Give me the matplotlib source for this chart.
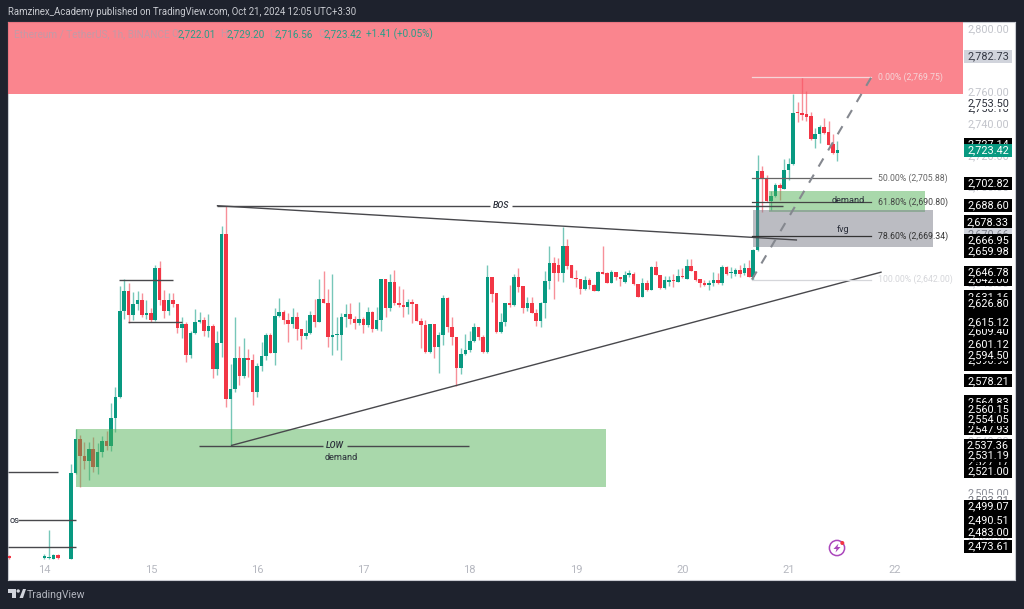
import numpy as np
import matplotlib
matplotlib.use('Agg')
import matplotlib.pyplot as plt
from matplotlib.patches import Circle, Polygon, Rectangle
from matplotlib.transforms import IdentityTransform

nan = float('nan')

# hourly candles, hour 0 = start of day 14
hours = [-8] + list(range(180))
opens = [2468.0,
    2466.5,2466.5,2466.0,2468.2,nan,nan,2466.0,2520.3,2541.5,2530.8,
    2527.6,2535.0,2523.9,2533.3,2540.2,2537.1,2554.7,2568.2,2622.2,2635.0,
    2619.7,2626.6,2629.2,2619.7,2621.1,2616.5,2649.5,2629.2,2622.2,2629.2,
    2626.6,2611.7,2614.2,2594.3,2608.1,2615.1,2616.5,2609.4,2612.8,2585.5,
    2601.8,2670.9,2566.7,2572.8,2592.4,2581.2,2592.4,2591.3,2571.3,2587.7,
    2593.8,2607.1,2595.9,2619.1,2621.6,2616.5,2613.8,2618.4,2610.7,2606.4,
    2608.3,2619.7,2615.3,2629.8,2627.4,2606.0,2607.1,2607.1,2618.2,2620.3,
    2617.0,2614.5,2617.4,2613.2,2621.6,2610.7,2616.5,2642.2,2623.9,2640.5,
    2627.1,2626.0,2624.5,2627.9,2626.6,2616.1,2613.6,2596.6,2614.0,2599.7,
    2607.1,2630.4,2612.3,2606.0,2586.5,2595.1,2597.6,2603.5,2612.3,2605.6,
    2596.2,2643.5,2633.4,2609.0,2615.3,2627.1,2626.0,2643.8,2638.0,2623.9,
    2627.1,2621.1,2615.7,2627.4,2641.3,2652.7,2651.2,2646.4,2663.2,2651.0,
    2643.0,2642.2,2635.9,2641.8,2638.8,2635.0,2646.8,2645.9,2640.1,2647.0,
    2643.5,2640.5,2645.1,2645.5,2639.2,2631.0,2639.7,2635.4,2649.8,2645.1,
    2636.7,2640.7,2641.8,2640.7,2644.3,2642.6,2650.6,2647.6,2642.2,2639.7,
    2638.5,2639.7,2641.6,2639.9,2650.2,2645.9,2645.5,2648.1,2645.9,2649.1,
    2643.8,2660.7,2710.5,2706.3,2691.8,2694.7,2701.7,2699.1,2711.1,2714.9,
    2747.7,2746.9,2746.4,2745.2,2730.9,2733.6,2738.4,2735.1,2727.5,2722.01]
closes = [2466.2,
    2467.5,2467.0,2468.2,2466.2,nan,nan,2520.3,2541.5,2530.8,2527.6,
    2535.0,2523.9,2533.3,2540.2,2537.1,2554.7,2568.0,2622.2,2635.0,2619.7,
    2626.6,2629.2,2619.7,2621.1,2616.5,2649.5,2629.2,2622.2,2629.2,2626.6,
    2611.7,2614.2,2594.3,2608.1,2615.1,2616.5,2609.4,2612.8,2585.5,2601.8,
    2670.9,2566.7,2572.8,2592.4,2581.2,2592.4,2591.1,2571.3,2587.7,2593.8,
    2607.1,2595.9,2619.1,2621.6,2616.5,2613.8,2618.4,2610.7,2606.4,2608.3,
    2619.7,2615.3,2629.8,2627.4,2606.0,2607.1,2607.5,2618.6,2620.3,2617.0,
    2614.5,2617.4,2613.2,2621.6,2610.7,2616.5,2642.2,2623.9,2640.5,2627.1,
    2626.0,2625.0,2627.9,2626.6,2616.1,2613.6,2596.6,2614.0,2599.7,2607.1,
    2630.4,2612.3,2606.0,2586.5,2595.1,2597.6,2603.5,2612.3,2605.6,2596.2,
    2643.5,2633.0,2609.0,2615.3,2627.1,2626.0,2643.8,2637.5,2623.9,2627.1,
    2621.1,2615.7,2627.4,2641.3,2652.7,2646.4,2646.4,2663.2,2650.8,2643.0,
    2642.2,2635.9,2641.8,2638.8,2635.0,2646.8,2645.7,2640.1,2647.0,2643.5,
    2642.6,2645.1,2646.0,2639.2,2631.0,2639.7,2635.4,2649.8,2645.1,2636.7,
    2641.8,2641.8,2641.0,2644.3,2643.5,2650.6,2647.6,2641.8,2639.7,2638.8,
    2639.7,2641.6,2639.9,2650.2,2645.5,2646.5,2648.3,2645.5,2649.1,2643.8,
    2660.7,2710.5,2705.9,2691.8,2694.7,2701.7,2699.6,2711.1,2714.9,2747.2,
    2746.9,2745.8,2744.5,2730.9,2733.6,2738.4,2734.6,2726.9,2721.6,2723.42]
highs = [2468.5,
    2469.0,2484.1,2469.0,2469.0,nan,nan,2525.7,2547.8,2544.0,2539.8,
    2539.8,2543.0,2539.0,2543.4,2546.7,2564.4,2574.5,2638.0,2642.2,2639.9,
    2634.2,2635.0,2633.6,2629.2,2624.3,2651.2,2653.6,2635.4,2633.8,2633.8,
    2626.6,2618.6,2615.5,2609.8,2623.5,2621.8,2618.6,2620.1,2613.8,2609.6,
    2675.8,2688.4,2588.6,2618.6,2600.1,2605.4,2598.1,2595.1,2589.2,2602.9,
    2608.5,2608.5,2624.3,2630.2,2622.8,2620.8,2623.9,2621.8,2610.7,2616.5,
    2622.2,2629.8,2642.2,2647.4,2635.9,2645.4,2618.2,2620.9,2626.6,2627.4,
    2619.1,2628.1,2618.6,2624.5,2622.2,2624.5,2642.2,2642.2,2645.5,2648.1,
    2638.0,2635.9,2629.6,2629.8,2626.6,2618.0,2616.5,2614.0,2614.0,2609.2,
    2632.3,2630.9,2618.6,2606.0,2598.7,2607.5,2609.6,2614.5,2612.3,2607.1,
    2651.2,2643.5,2633.4,2621.1,2627.4,2638.4,2645.5,2649.1,2638.0,2630.9,
    2631.2,2623.3,2628.1,2647.4,2663.2,2656.1,2655.6,2675.4,2667.4,2651.0,
    2648.1,2642.2,2644.3,2642.8,2639.4,2647.6,2663.2,2647.0,2648.0,2647.0,
    2643.9,2647.6,2648.1,2646.8,2639.2,2642.8,2641.8,2650.6,2653.7,2645.1,
    2644.3,2644.3,2645.5,2648.9,2649.1,2655.2,2654.8,2647.6,2642.2,2641.8,
    2641.8,2647.0,2646.0,2651.2,2650.6,2650.2,2649.0,2651.2,2652.3,2654.4,
    2661.5,2720.6,2713.6,2708.0,2697.9,2703.1,2702.7,2717.9,2718.9,2758.8,
    2754.2,2769.75,2760.9,2747.9,2737.4,2739.3,2743.7,2742.2,2733.8,2729.2]
lows = [2466.0,
    2466.0,2466.0,2466.0,2466.0,nan,nan,2466.0,2519.5,2511.2,2522.6,
    2515.7,2520.9,2519.4,2530.3,2534.6,2534.0,2546.1,2567.6,2617.2,2614.8,
    2616.5,2622.8,2618.6,2617.2,2615.5,2616.1,2626.0,2617.6,2619.7,2624.5,
    2608.1,2605.4,2590.2,2592.4,2607.5,2614.8,2606.6,2605.6,2579.8,2581.9,
    2593.2,2561.9,2537.1,2571.3,2575.6,2579.8,2580.8,2562.9,2568.2,2584.6,
    2591.3,2595.5,2588.2,2618.6,2613.8,2602.9,2611.3,2603.9,2598.3,2604.7,
    2607.5,2612.3,2615.1,2627.0,2599.7,2594.5,2597.6,2591.3,2612.3,2614.0,
    2610.9,2613.4,2608.5,2612.3,2609.2,2610.2,2609.8,2618.2,2622.4,2626.0,
    2625.0,2618.6,2620.3,2614.8,2616.1,2598.7,2595.5,2596.0,2592.4,2583.0,
    2600.8,2609.2,2600.8,2574.9,2582.5,2594.7,2596.6,2602.9,2603.9,2595.9,
    2595.9,2628.1,2608.3,2608.2,2612.8,2625.0,2625.4,2634.4,2620.8,2622.4,
    2620.8,2612.8,2611.9,2617.6,2635.9,2629.6,2641.1,2640.7,2648.7,2642.8,
    2637.5,2633.0,2635.4,2635.9,2635.0,2634.8,2645.5,2639.7,2639.7,2641.8,
    2638.0,2640.1,2643.5,2638.8,2630.8,2630.8,2634.8,2635.2,2644.7,2636.3,
    2636.3,2638.0,2637.5,2640.3,2643.0,2642.2,2647.2,2641.4,2637.5,2638.0,
    2635.4,2638.0,2639.2,2638.6,2644.9,2642.8,2644.5,2643.5,2644.9,2643.5,
    2642.0,2660.0,2684.8,2691.1,2685.9,2694.3,2692.2,2698.9,2704.8,2714.3,
    2741.4,2742.6,2742.2,2730.0,2725.2,2728.0,2733.8,2726.7,2721.2,2716.56]

day_ticks = [0, 24, 48, 72, 96, 120, 144, 168, 192]
day_labels = ['14', '15', '16', '17', '18', '19', '20', '21', '22']

scale_ticks = [2800, 2760, 2740, 2720, 2700, 2680, 2660, 2640, 2620, 2600,
               2580, 2560, 2540, 2520, 2500, 2480]

# price scale tags, drawn in this order so later ones cover earlier ones
black_tags = [2727.14, 2642.00, 2631.16, 2622.5, 2609.40, 2588.2, 2590.90, 2564.83,
              2547.93, 2527.17, 2702.82, 2688.60, 2678.33, 2666.95, 2659.98,
              2646.78, 2626.80, 2615.12, 2601.12, 2594.50, 2578.21, 2560.15, 2554.05,
              2537.36, 2531.19, 2521.00, 2499.07, 2490.51, 2483.00, 2473.61]
no_text_tags = [2622.5, 2588.2]

fib_prices = [2769.75, 2705.88, 2690.80, 2669.34, 2642.00]
fib_labels = ['0.00% (2,769.75)', '50.00% (2,705.88)', '61.80% (2,690.80)',
              '78.60% (2,669.34)', '100.00% (2,642.00)']
fib_colors = ['#f5d5d8', '#666666', '#444444', '#333333', '#d5d6da']

W, H = 1024, 609
BG = '#1e222d'
GREEN = '#089981'
RED = '#f23645'
LINE = '#48484c'
plt.rcParams['font.family'] = 'Roboto'

fig = plt.figure(figsize=(W / 100, H / 100), dpi=100, facecolor=BG)
ax = fig.add_axes([8 / W, (H - 580) / H, (1015 - 8) / W, 558 / H])
ax.set_xlim(-8.24, 219.1)
ax.set_ylim(2452.6, 2804.4)
ax.set_yticks([])
ax.set_xticks(day_ticks)
ax.set_xticklabels(day_labels, color='#b6b8c0', fontsize=8)
ax.tick_params(axis='x', length=0, pad=-10.8)
for s in ax.spines.values():
    s.set_color('#c9cbd1')
    s.set_linewidth(0.8)

# candles
h = np.array(hours, dtype=float)
o = np.array(opens)
c = np.array(closes)
hi = np.array(highs)
lo = np.array(lows)
up = c >= o
cols = np.where(up, GREEN, RED)
ax.vlines(h, lo, hi, colors=list(cols), linewidth=1.0, alpha=0.55, zorder=2)
ax.bar(h, np.maximum(np.abs(c - o), 0.9), bottom=np.minimum(o, c), width=0.8,
       color=list(cols), linewidth=0, zorder=3)

# zones
ax.add_patch(Rectangle((-8.24, 2758.7), 207.3 + 8.24, 2804.4 - 2758.7, color='#f9515f', alpha=0.7, lw=0, zorder=4))
ax.add_patch(Rectangle((7.1, 2511.2), 119.7, 2547.9 - 2511.2, color='#4caf50', alpha=0.48, lw=0, zorder=4))
ax.add_patch(Rectangle((163.5, 2684.8), 35.2, 2697.9 - 2684.8, color='#4caf50', alpha=0.48, lw=0, zorder=4))
ax.add_patch(Rectangle((160.0, 2662.4), 40.6, 2685.9 - 2662.4, color='#787b86', alpha=0.5, lw=0, zorder=4))

# trend lines and structure levels
segs = [
    ((38.9, 100.6), (2688.6, 2688.6)),
    ((105.5, 166.7), (2688.6, 2688.6)),
    ((38.9, 169.9), (2688.6, 2666.95)),
    ((42.1, 189.0), (2537.36, 2646.78)),
    ((34.9, 62.9), (2537.36, 2537.36)),
    ((68.3, 95.8), (2537.36, 2537.36)),
    ((-8.24, 3.0), (2521.0, 2521.0)),
    ((-6.0, 7.0), (2490.51, 2490.51)),
    ((-8.24, 7.0), (2473.61, 2473.61)),
    ((16.8, 29.0), (2642.0, 2642.0)),
    ((18.9, 31.0), (2615.12, 2615.12)),
]
for xs, ys in segs:
    ax.plot(xs, ys, color=LINE, lw=1.0, solid_capstyle='butt', zorder=6)

txt = dict(color='#2a2e39', va='center', zorder=7)
ax.text(103.0, 2688.6, 'BOS', ha='center', fontsize=6.3, style='italic', fontweight=500, **txt)
ax.text(65.6, 2537.36, 'LOW', ha='center', fontsize=6.3, style='italic', fontweight=500, **txt)
ax.text(67.0, 2530.0, 'demand', ha='center', fontsize=6.6, **txt)
ax.text(181.4, 2691.8, 'demand', ha='center', fontsize=6.6, **txt)
ax.text(180.3, 2673.6, 'fvg', ha='center', fontsize=6.6, **txt)
ax.text(-7.9, 2490.4, 'os', ha='left', fontsize=6.6, **txt)

# fib retracement
for p, lab, col in zip(fib_prices, fib_labels, fib_colors):
    ax.plot((159.7, 186.7), (p, p), color=col, lw=0.9, zorder=6)
    ax.text(188.1, p, lab, color=col, fontsize=6.3, va='center', ha='left', zorder=7)
ax.plot((159.7, 186.7), (fib_prices[-1], fib_prices[0]), color='#85888f', lw=1.5,
        linestyle=(0, (4.5, 4.5)), zorder=6)

# price scale
tag_x = 213.0
tag_kw = dict(ha='center', va='center', fontsize=7.8)
tag_h = 8.2
for p in scale_ticks:
    ax.text(tag_x, p, '{:,.2f}'.format(p), color='#c2c4cb', zorder=8, **tag_kw)
ax.text(tag_x, 2750.0, '2,750.10', color='#2a2e39', zorder=9, **tag_kw)
ax.add_patch(Rectangle((207.5, 2753.5 - tag_h / 2), 10.9, tag_h, color='white', lw=0, zorder=10))
ax.text(tag_x, 2753.5, '2,753.50', color='#2a2e39', zorder=10.5, **tag_kw)
ax.text(tag_x, 2507.0, '2,505.00', color='#8a8d96', zorder=8, **tag_kw)
ax.add_patch(Rectangle((207.5, 2499.1), 10.9, 7.2, color='white', lw=0, zorder=9))
ax.text(tag_x, 2503.21, '2,503.21', color='#6a6d76', zorder=9.5, **tag_kw)

ax.add_patch(Rectangle((207.5, 2782.73 - tag_h / 2), 10.9, tag_h, color='#d1d4dc', lw=0, zorder=11))
ax.text(tag_x, 2782.73, '2,782.73', color='#363a45', zorder=11.5, **tag_kw)
ax.add_patch(Rectangle((207.5, 2670.66 - tag_h / 2), 10.9, tag_h, color='#d1d4dc', lw=0, zorder=11))
ax.text(tag_x, 2670.66, '2,670.66', color='#787b86', zorder=11.5, **tag_kw)

z = 12
for p in black_tags:
    ax.add_patch(Rectangle((207.5, p - tag_h / 2), 10.9, tag_h, color='black', lw=0, zorder=z))
    if p not in no_text_tags:
        ax.text(tag_x, p, '{:,.2f}'.format(p), color='white', zorder=z + 0.5, **tag_kw)
    z += 1
ax.add_patch(Rectangle((207.5, 2723.42 - tag_h / 2), 10.9, tag_h, color=GREEN, lw=0, zorder=z))
ax.text(tag_x, 2723.42, '2,723.42', color='white', zorder=z + 0.5, **tag_kw)


def fx(px):
    return px / W


def fy(py):
    return (H - py) / H


# header and legend line
fig.text(fx(8), fy(12), 'Ramzinex_Academy published on TradingView.com, Oct 21, 2024 12:05 UTC+3:30',
         color='#c8cad0', fontsize=6.9, va='center')
dim = '#c49aa6'
teal = '#2a9d88'
legend_bits = [
    (14, 'Ethereum / TetherUS, 1h, BINANCE', dim), (171.5, 'O', dim), (177.8, '2,722.01', teal),
    (220, 'H', dim), (226.7, '2,729.20', teal), (269.5, 'L', dim), (274.3, '2,716.56', teal),
    (318.5, 'C', dim), (323.3, '2,723.42', teal), (366, '+1.41 (+0.05%)', teal),
]
for x, s, col in legend_bits:
    t = fig.text(fx(x), fy(34), s, color=col, fontsize=7.2, va='center')
    t.set_zorder(20)

# TradingView logo
ident = IdentityTransform()


def pts(*xy):
    return [(x, H - y) for x, y in xy]


for shape in [pts((8, 589), (16, 589), (16, 598), (12, 598), (12, 593), (8, 593)),
              pts((19.5, 598), (23, 589), (26, 589), (23, 598))]:
    fig.add_artist(Polygon(shape, closed=True, color='#d1d4dc', lw=0, transform=ident))
fig.add_artist(Circle((18.2, H - 591), 1.7, color='#d1d4dc', lw=0, transform=ident))
fig.text(fx(27), fy(594.5), 'TradingView', color='#b2b5be', fontsize=7.6, va='center')

# lightning badge
fig.add_artist(Circle((837, H - 548), 7.6, fill=False, edgecolor='#ab47bc', lw=1.1, transform=ident))
fig.add_artist(Polygon(pts((838.5, 543.5), (833.5, 549), (836.5, 549), (835.5, 552.5), (840.5, 547), (837.5, 547)),
                       closed=True, color='#ab47bc', lw=0, transform=ident))
fig.add_artist(Circle((842.3, H - 543), 2.0, color='#f23645', lw=0, transform=ident))

fig.savefig('out.png', dpi=100, facecolor=BG)
